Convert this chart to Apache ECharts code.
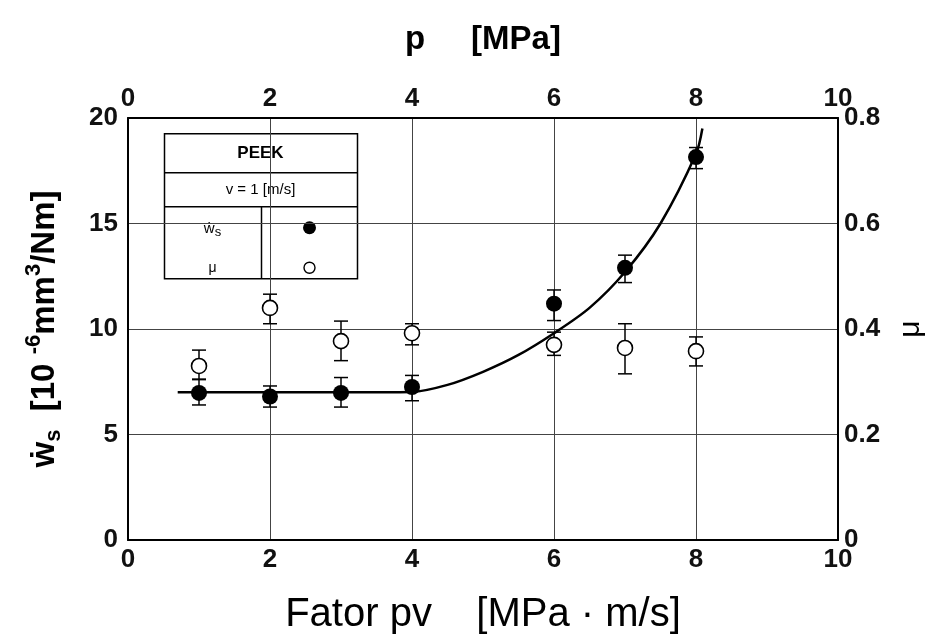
<!DOCTYPE html>
<html>
<head>
<meta charset="utf-8">
<script src="https://cdn.jsdelivr.net/npm/echarts@6/dist/echarts.min.js"></script>
<style>html,body{margin:0;padding:0;background:#fff;overflow:hidden;}#c{width:941px;height:641px;}</style>
</head>
<body>
<div id="c"></div>
<script>
// ---- data ----
const pv = [1, 2, 3, 4, 6, 7, 8];
const wsVal  = [6.97, 6.8, 6.97, 7.25, 11.2, 12.9, 18.15];
const wsLow  = [6.4, 6.3, 6.3, 6.6, 10.4, 12.2, 17.6];
const wsHigh = [7.6, 7.3, 7.7, 7.8, 11.85, 13.5, 18.6];
const muVal  = [0.33, 0.44, 0.377, 0.392, 0.37, 0.364, 0.358];
const muLow  = [0.305, 0.41, 0.34, 0.37, 0.35, 0.315, 0.33];
const muHigh = [0.36, 0.466, 0.415, 0.41, 0.394, 0.41, 0.385];
const curveX = [0.7, 2.0, 3.0, 4.0, 4.5, 5.0, 5.5, 6.0, 6.5, 7.0, 7.5, 8.0, 8.09];
const curveY = [7.0, 7.0, 7.0, 7.02, 7.35, 7.97, 8.77, 9.8, 11.0, 12.7, 15.0, 18.3, 19.5];
const xTicks = [0, 2, 4, 6, 8, 10];
const leftTicks = [0, 5, 10, 15, 20];
const rightTicks = [0, 0.2, 0.4, 0.6, 0.8];

const FONT = '"Liberation Sans", Arial, sans-serif';
const chart = echarts.init(document.getElementById('c'), null, {renderer: 'canvas'});

function errRender(params, api) {
  const x = api.value(0), lo = api.value(1), hi = api.value(2);
  const a = api.coord([x, lo]), b = api.coord([x, hi]);
  const w = 7;
  const st = {stroke: '#000', lineWidth: 1.5};
  return {type: 'group', children: [
    {type: 'line', shape: {x1: a[0], y1: a[1], x2: b[0], y2: b[1]}, style: st},
    {type: 'line', shape: {x1: a[0]-w, y1: a[1], x2: a[0]+w, y2: a[1]}, style: st},
    {type: 'line', shape: {x1: b[0]-w, y1: b[1], x2: b[0]+w, y2: b[1]}, style: st}
  ]};
}

const axisLabelStyle = {color: '#111', fontSize: 26, fontFamily: FONT, fontWeight: 'bold'};
const axisLineStyle = {show: true, onZero: false, lineStyle: {color: '#000', width: 2}};

const option = {
  backgroundColor: '#fff',
  animation: false,
  grid: {left: 128, right: 103, top: 118, bottom: 101, containLabel: false, outerBoundsMode: 'none'},
  xAxis: [
    {type: 'value', position: 'bottom', min: 0, max: 10, interval: 2,
     axisLine: axisLineStyle, axisTick: {show: false},
     axisLabel: Object.assign({margin: 7, formatter: v => xTicks.includes(v) ? String(v) : ''}, axisLabelStyle),
     splitLine: {show: true, lineStyle: {color: '#444', width: 1}},
     name: 'Fator pv    [MPa · m/s]', nameLocation: 'middle', nameGap: 55,
     nameTextStyle: {fontSize: 40, fontFamily: FONT, color: '#000'}},
    {type: 'value', position: 'top', min: 0, max: 10, interval: 2,
     axisLine: axisLineStyle, axisTick: {show: false},
     axisLabel: Object.assign({margin: 6, formatter: v => xTicks.includes(v) ? String(v) : ''}, axisLabelStyle),
     splitLine: {show: false},
     name: 'p     [MPa]', nameLocation: 'middle', nameGap: 62,
     nameTextStyle: {fontSize: 33, fontFamily: FONT, color: '#000', fontWeight: 'bold'}}
  ],
  yAxis: [
    {type: 'value', position: 'left', min: 0, max: 20, interval: 5,
     axisLine: axisLineStyle, axisTick: {show: false},
     axisLabel: Object.assign({margin: 10, formatter: v => leftTicks.includes(v) ? String(v) : ''}, axisLabelStyle),
     splitLine: {show: true, lineStyle: {color: '#444', width: 1}},
     name: '{a|ẇ}{s|s}{a|  [10 }{p|-6}{a|mm}{p|3}{a|/Nm]}', nameLocation: 'middle', nameGap: 60, nameRotate: 90,
     nameTextStyle: {
       rich: {
         a: {fontSize: 33, fontFamily: FONT, fontWeight: 'bold', color: '#000', lineHeight: 46, verticalAlign: 'middle'},
         s: {fontSize: 22, fontFamily: FONT, fontWeight: 'bold', color: '#000', lineHeight: 46, verticalAlign: 'bottom', padding: [0,0,3,0]},
         p: {fontSize: 22, fontFamily: FONT, fontWeight: 'bold', color: '#000', lineHeight: 46, verticalAlign: 'top', padding: [1,0,0,0]}
       }
     }},
    {type: 'value', position: 'right', min: 0, max: 0.8, interval: 0.2,
     axisLine: axisLineStyle, axisTick: {show: false},
     axisLabel: Object.assign({margin: 6, formatter: v => {const r = Math.round(v*10)/10; return rightTicks.includes(r) ? String(r) : '';}}, axisLabelStyle),
     splitLine: {show: false},
     name: 'μ', nameLocation: 'middle', nameGap: 58, nameRotate: 90,
     nameTextStyle: {fontSize: 30, fontFamily: FONT, color: '#000'}}
  ],
  series: [
    {type: 'line', name: 'fit', xAxisIndex: 0, yAxisIndex: 0, data: curveX.map((x, i) => [x, curveY[i]]),
     smooth: 0.3, showSymbol: false, symbol: 'none',
     lineStyle: {color: '#000', width: 2.5}, z: 3},
    {type: 'custom', name: 'wsErr', xAxisIndex: 0, yAxisIndex: 0, renderItem: errRender,
     data: pv.map((x, i) => [x, wsLow[i], wsHigh[i]]), z: 4},
    {type: 'custom', name: 'muErr', xAxisIndex: 0, yAxisIndex: 1, renderItem: errRender,
     data: pv.map((x, i) => [x, muLow[i], muHigh[i]]), z: 4},
    {type: 'scatter', name: 'ws', xAxisIndex: 0, yAxisIndex: 0, data: pv.map((x, i) => [x, wsVal[i]]),
     symbol: 'circle', symbolSize: 16, itemStyle: {color: '#000', opacity: 1}, z: 5},
    {type: 'scatter', name: 'mu', xAxisIndex: 0, yAxisIndex: 1, data: pv.map((x, i) => [x, muVal[i]]),
     symbol: 'circle', symbolSize: 15, itemStyle: {color: '#fff', borderColor: '#000', borderWidth: 1.6, opacity: 1}, z: 5}
  ],
  graphic: [
    {type: 'group', left: 162, top: 133, z: 100, children: [
      {type: 'rect', shape: {x: 0, y: 0, width: 193, height: 145}, style: {fill: '#fff', stroke: '#000', lineWidth: 1.5}},
      {type: 'line', shape: {x1: 0, y1: 39, x2: 193, y2: 39}, style: {stroke: '#000', lineWidth: 1.5}},
      {type: 'line', shape: {x1: 0, y1: 73, x2: 193, y2: 73}, style: {stroke: '#000', lineWidth: 1.5}},
      {type: 'line', shape: {x1: 97, y1: 73, x2: 97, y2: 145}, style: {stroke: '#000', lineWidth: 1.5}},
      {type: 'text', x: 96, y: 20, style: {text: 'PEEK', fontSize: 17, fontWeight: 'bold', fontFamily: FONT, fill: '#000', align: 'center', verticalAlign: 'middle'}},
      {type: 'text', x: 96, y: 56, style: {text: 'v = 1 [m/s]', fontSize: 15, fontFamily: FONT, fill: '#000', align: 'center', verticalAlign: 'middle'}},
      {type: 'text', x: 48, y: 95, style: {text: '{a|ẇ}{s|s}', fill: '#000', align: 'center', verticalAlign: 'middle',
        rich: {a: {fontSize: 15, fontFamily: FONT, lineHeight: 20, verticalAlign: 'middle'}, s: {fontSize: 13, fontFamily: FONT, lineHeight: 20, verticalAlign: 'bottom'}}}},
      {type: 'text', x: 48, y: 134, style: {text: 'μ', fontSize: 14, fontFamily: FONT, fill: '#000', align: 'center', verticalAlign: 'middle'}},
      {type: 'circle', shape: {cx: 145, cy: 94, r: 6.5}, style: {fill: '#000'}},
      {type: 'circle', shape: {cx: 145, cy: 134, r: 5.5}, style: {fill: '#fff', stroke: '#000', lineWidth: 1.4}}
    ]}
  ]
};
chart.setOption(option);
</script>
</body>
</html>
